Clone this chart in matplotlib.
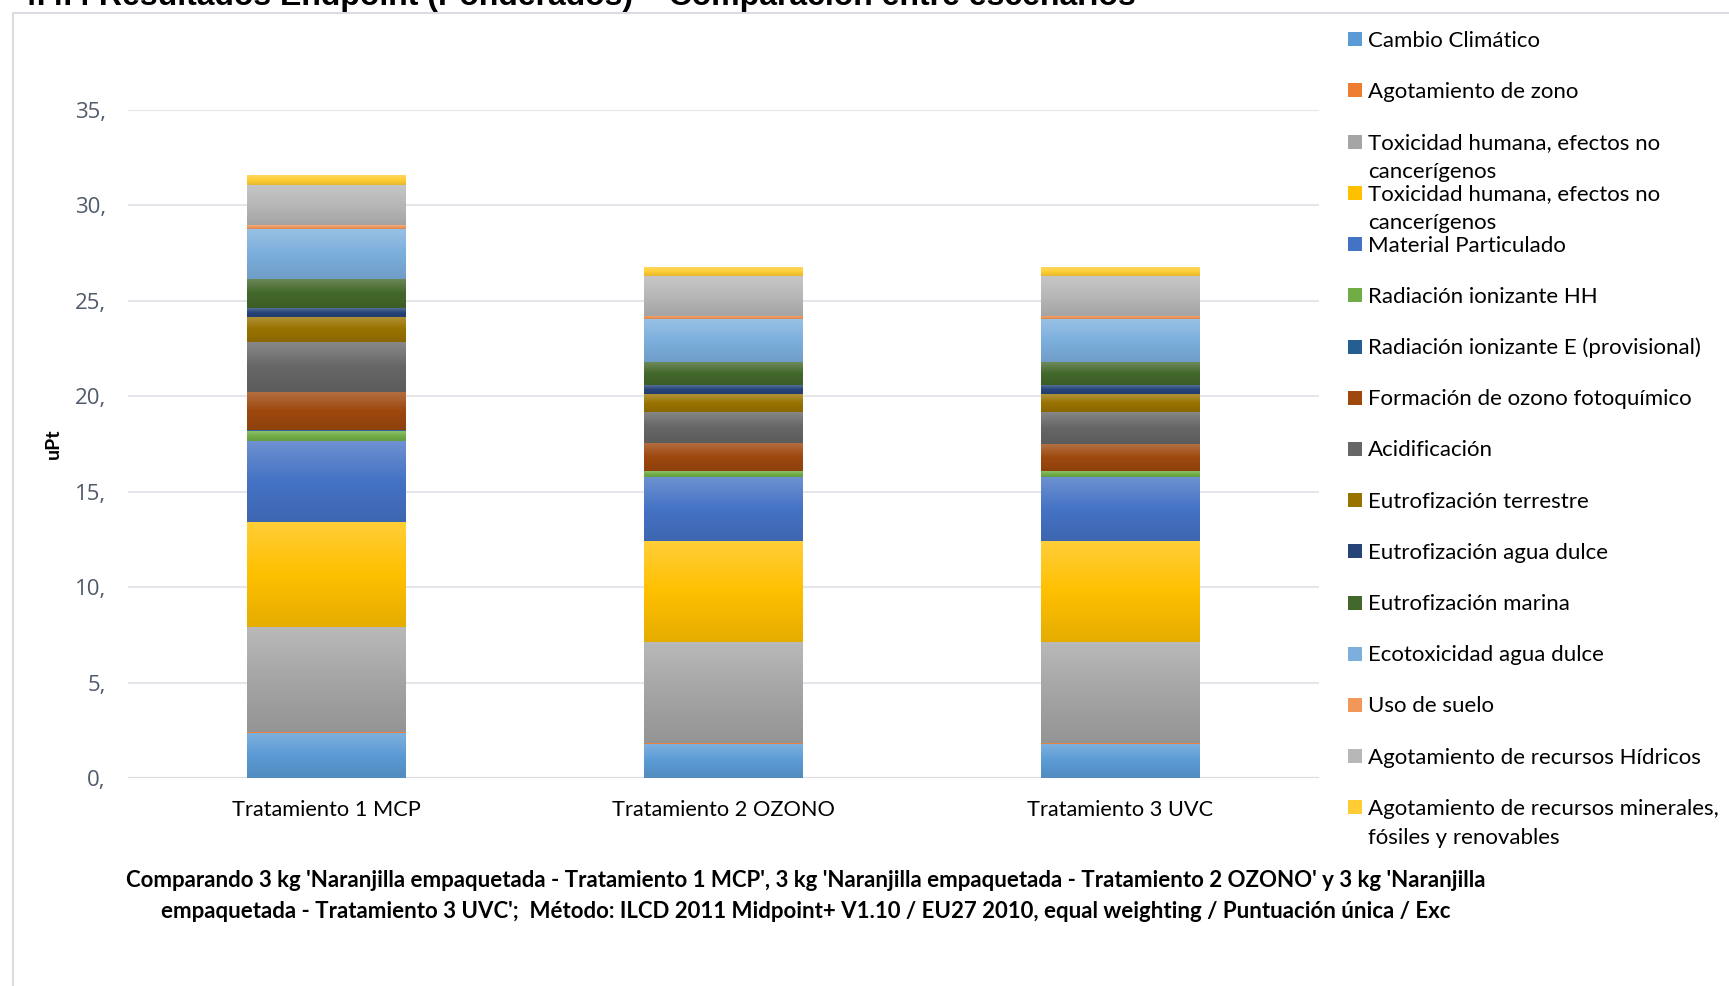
import textwrap

import numpy as np
import matplotlib
matplotlib.use("Agg")
import matplotlib.pyplot as plt
from matplotlib.colors import to_rgb, LinearSegmentedColormap
from matplotlib.patches import Rectangle

W, H = 1729, 986
DPI = 100

escenarios = ["Tratamiento 1 MCP", "Tratamiento 2 OZONO", "Tratamiento 3 UVC"]

categorias = [
    "Cambio Climático",
    "Agotamiento de zono",
    "Toxicidad humana, efectos no cancerígenos",
    "Toxicidad humana, efectos no cancerígenos",
    "Material Particulado",
    "Radiación ionizante HH",
    "Radiación ionizante E (provisional)",
    "Formación de ozono fotoquímico",
    "Acidificación",
    "Eutrofización terrestre",
    "Eutrofización agua dulce",
    "Eutrofización marina",
    "Ecotoxicidad agua dulce",
    "Uso de suelo",
    "Agotamiento de recursos Hídricos",
    "Agotamiento de recursos minerales, fósiles y renovables",
]

# uPt per scenario, one list per impact category (stack order, bottom first)
cambio_climatico = [2.38, 1.80, 1.80]
agotamiento_ozono = [0.03, 0.01, 0.01]
tox_no_cancer = [5.50, 5.34, 5.34]
tox_cancer = [5.52, 5.27, 5.27]
material_particulado = [4.24, 3.35, 3.35]
radiacion_hh = [0.52, 0.31, 0.31]
radiacion_e = [0.02, 0.01, 0.01]
ozono_fotoquimico = [2.04, 1.47, 1.41]
acidificacion = [2.57, 1.64, 1.69]
eutrof_terrestre = [1.33, 0.93, 0.93]
eutrof_agua_dulce = [0.45, 0.47, 0.47]
eutrof_marina = [1.57, 1.20, 1.20]
ecotox_agua_dulce = [2.62, 2.25, 2.25]
uso_suelo = [0.17, 0.17, 0.17]
recursos_hidricos = [2.13, 2.10, 2.10]
recursos_minerales = [0.49, 0.46, 0.46]

series = [
    cambio_climatico, agotamiento_ozono, tox_no_cancer, tox_cancer,
    material_particulado, radiacion_hh, radiacion_e, ozono_fotoquimico,
    acidificacion, eutrof_terrestre, eutrof_agua_dulce, eutrof_marina,
    ecotox_agua_dulce, uso_suelo, recursos_hidricos, recursos_minerales,
]

colores = [
    "#5B9BD5", "#ED7D31", "#A5A5A5", "#FFC000", "#4472C4", "#70AD47",
    "#255E91", "#9E480E", "#666666", "#997300", "#264478", "#43682B",
    "#7CAFDD", "#F1975A", "#B7B7B7", "#FFCD33",
]

yticks = [0, 5, 10, 15, 20, 25, 30, 35]

titulo = "4.4.4 Resultados Endpoint (Ponderados) – Comparación entre escenarios"
pie = ("Comparando 3 kg 'Naranjilla empaquetada - Tratamiento 1 MCP', 3 kg 'Naranjilla "
       "empaquetada - Tratamiento 2 OZONO' y 3 kg 'Naranjilla\nempaquetada - Tratamiento 3 "
       "UVC';  Método: ILCD 2011 Midpoint+ V1.10 / EU27 2010, equal weighting / "
       "Puntuación única / Exc")

FONT = "Lato"


def fx(px):
    return px / W


def fy(py):
    # pixel rows counted from the top
    return 1 - py / H


def gradiente(color):
    # light tint on top, base colour in the middle, a darker shade at the bottom
    c = np.array(to_rgb(color))
    top = c + (1 - c) * 0.22
    bot = c * 0.9
    return LinearSegmentedColormap.from_list("g", [bot, c, top])


fig = plt.figure(figsize=(W / DPI, H / DPI), dpi=DPI)
fig.patch.set_facecolor("white")

# chart frame
fig.patches.append(Rectangle((fx(12.5), fy(H + 20)), 1.0, fy(13) - fy(H + 20),
                             transform=fig.transFigure, fill=False,
                             edgecolor="#D9DDE3", lw=1.5))
fig.text(fx(19), fy(5.5), titulo, fontsize=23, fontweight="bold",
         family="Liberation Sans", va="baseline", ha="left", color="black")

ax = fig.add_axes([fx(128), fy(778), fx(1318.5) - fx(128), fy(110) - fy(778)])
x = list(range(len(escenarios)))
bottom = [0.0] * len(escenarios)
grad = np.linspace(0, 1, 64).reshape(-1, 1)
for vals, col in zip(series, colores):
    bars = ax.bar(x, vals, width=0.4, bottom=bottom, color=col, linewidth=0, zorder=3)
    for b in bars:
        if b.get_height() <= 0:
            continue
        ax.imshow(grad, cmap=gradiente(col), origin="lower", aspect="auto",
                  interpolation="bilinear", zorder=4,
                  extent=(b.get_x(), b.get_x() + b.get_width(),
                          b.get_y(), b.get_y() + b.get_height()))
    bottom = [b + v for b, v in zip(bottom, vals)]

ax.set_xlim(-0.5, 2.5)
ax.set_ylim(0, 35)
ax.set_yticks(yticks)
ax.set_yticklabels([f"{v}," for v in yticks], fontsize=16, family="Open Sans",
                   color="#505A6B")
ax.set_xticks(x)
ax.set_xticklabels(escenarios, fontsize=15.7, family=FONT, color="black")
ax.tick_params(length=0)
ax.tick_params(axis="y", pad=16)
ax.tick_params(axis="x", pad=16)
ax.grid(axis="y", color="#E3E6EB", lw=1.5, zorder=0)
for s in ax.spines.values():
    s.set_visible(False)
ax.axhline(0, color="#D9DDE3", lw=1.5, zorder=2)

fig.text(fx(53), fy(444), "uPt", rotation=90, fontsize=14, fontweight="bold",
         family=FONT, ha="center", va="center")

# legend drawn with the fixed row pitch of the original chart
for i, (lab, col) in enumerate(zip(categorias, colores)):
    yc = 39.3 + i * 51.2
    fig.patches.append(Rectangle((fx(1348), fy(yc + 7)), fx(14), fy(yc - 7) - fy(yc + 7),
                                 transform=fig.transFigure, color=col, lw=0))
    for j, linea in enumerate(textwrap.wrap(lab, 35)):
        fig.text(fx(1368), fy(yc + 7.5 + j * 29), linea, fontsize=16, family=FONT,
                 ha="left", va="baseline", color="black")

fig.text(fx(806), fy(896), pie, fontsize=16, fontweight="bold", family=FONT,
         ha="center", va="center", multialignment="center", linespacing=1.55)

fig.savefig("out.png", dpi=DPI)
